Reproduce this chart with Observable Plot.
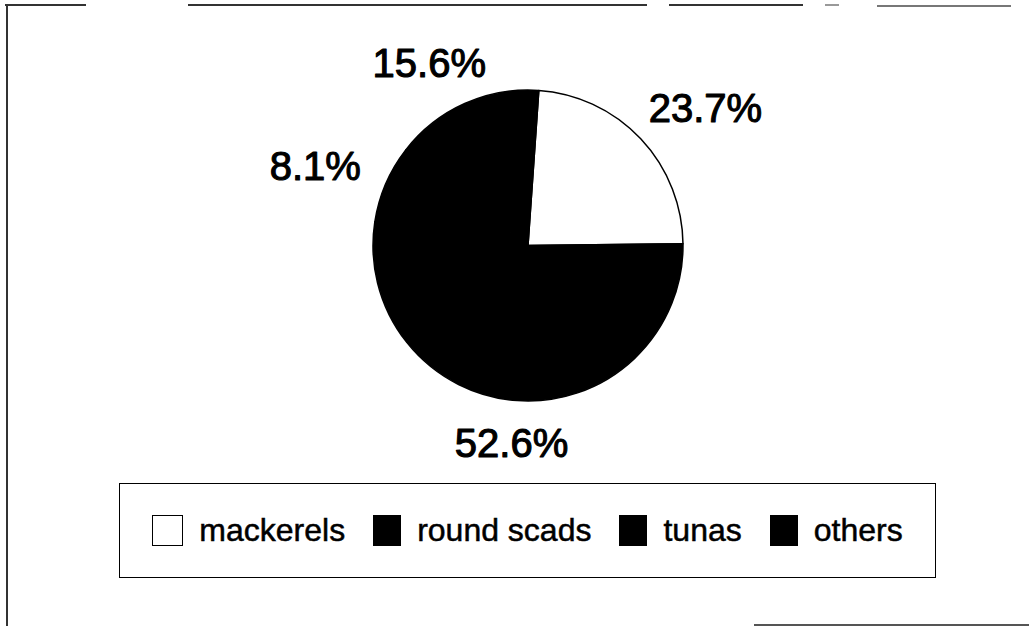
<!DOCTYPE html>
<html>
<head>
<meta charset="utf-8">
<script src="https://cdn.jsdelivr.net/npm/d3@7"></script>
<script src="https://cdn.jsdelivr.net/npm/@observablehq/plot@0.6"></script>
<style>
  body { margin: 0; background: #fff; font-family: "Liberation Sans", Arial, Helvetica, sans-serif; }
  #wrap { position: relative; width: 1029px; height: 626px; overflow: hidden; background: #fff; }
  #chart { position: absolute; left: 0; top: 0; }
  .ln { position: absolute; background: #333; }
  #legend {
    position: absolute; left: 119px; top: 483px; width: 817px; height: 95px;
    box-sizing: border-box; border: 1.5px solid #000;
    display: flex; align-items: center; justify-content: center;
    font-size: 32px; color: #000; -webkit-text-stroke: 0.5px #000;
  }
  .item { display: flex; align-items: center; }
  .item + .item { margin-left: 28px; }
  .sw { box-sizing: border-box; height: 31px; margin-right: 16px; }
</style>
</head>
<body>
<div id="wrap">
  <div class="ln" style="left:5px;top:4px;width:81px;height:1.5px"></div>
  <div class="ln" style="left:188px;top:4px;width:459px;height:1.5px"></div>
  <div class="ln" style="left:669px;top:4px;width:134px;height:1.5px"></div>
  <div class="ln" style="left:825px;top:4px;width:14px;height:1.5px;background:#999"></div>
  <div class="ln" style="left:877px;top:5px;width:134px;height:1.5px;background:#777"></div>
  <div class="ln" style="left:6px;top:4px;width:1.5px;height:622px"></div>
  <div class="ln" style="left:754px;top:624px;width:275px;height:1.5px;background:#555"></div>
  <div id="chart"></div>
  <div id="legend"></div>
</div>
<script>
// ---- data ----
const categories = ["mackerels", "round scads", "tunas", "others"];
const shares = [23.7, 52.6, 8.1, 15.6];
const shareLabels = ["23.7%", "52.6%", "8.1%", "15.6%"];
const sliceFills = ["white", "black", "black", "black"];

// ---- layout constants ----
const startDeg = 4;          // rotation of first slice (clockwise from 12 o'clock)
const labelGap = 1.19;       // label anchor distance, in pie radii
const labelHalfHeight = 14;  // px
const xRange = [373, 683];
const yRange = [401, 90];
const pxX = (xRange[1] - xRange[0]) / 2;
const pxY = (yRange[0] - yRange[1]) / 2;

const total = d3.sum(shares);
let acc = startDeg * Math.PI / 180;
const slices = categories.map((c, i) => {
  const a0 = acc, a1 = acc + shares[i] / total * 2 * Math.PI;
  acc = a1;
  return { category: c, share: shares[i], label: shareLabels[i], fill: sliceFills[i], a0, a1, mid: (a0 + a1) / 2 };
});

const ctx = document.createElement("canvas").getContext("2d");
ctx.font = "40px 'Liberation Sans', Arial, sans-serif";
slices.forEach(s => {
  const hw = ctx.measureText(s.label).width / 2 + 2;
  s.lx = Math.sin(s.mid) * (labelGap * pxX + hw) / pxX;
  s.ly = Math.cos(s.mid) * (labelGap * pxY + labelHalfHeight) / pxY;
});

function pieMark(index, scales) {
  const cx = scales.x(0), cy = scales.y(0);
  const rx = scales.x(1) - cx, ry = scales.y(-1) - cy;
  const g = d3.create("svg:g")
    .attr("transform", `translate(${cx},${cy}) scale(1,${ry / rx})`);
  const arc = d3.arc().innerRadius(0).outerRadius(rx);
  g.selectAll("path")
    .data(slices)
    .join("path")
    .attr("d", d => arc({ startAngle: d.a0, endAngle: d.a1 }))
    .attr("fill", d => d.fill)
    .attr("stroke", "#000")
    .attr("stroke-width", 1.5)
    .attr("stroke-linejoin", "round");
  return g.node();
}

const plot = Plot.plot({
  width: 1029,
  height: 480,
  margin: 0,
  x: { domain: [-1, 1], range: xRange, axis: null },
  y: { domain: [-1, 1], range: yRange, axis: null },
  style: { fontFamily: "'Liberation Sans', Arial, sans-serif", background: "transparent", overflow: "visible" },
  marks: [
    pieMark,
    Plot.text(slices, {
      x: "lx", y: "ly", text: "label",
      fontSize: 40, fontWeight: "normal", fill: "#000",
      stroke: "#000", strokeWidth: 1.1,
      textAnchor: "middle", lineAnchor: "middle"
    })
  ]
});
document.getElementById("chart").append(plot);

// ---- legend ----
const legend = d3.select("#legend");
const items = legend.selectAll(".item").data(categories).join("div").attr("class", "item");
items.append("div").attr("class", "sw")
  .style("width", (d, i) => sliceFills[i] === "white" ? "31px" : "28px")
  .style("background", (d, i) => sliceFills[i])
  .style("border", "1.5px solid #000");
items.append("span").text(d => d);
</script>
</body>
</html>
